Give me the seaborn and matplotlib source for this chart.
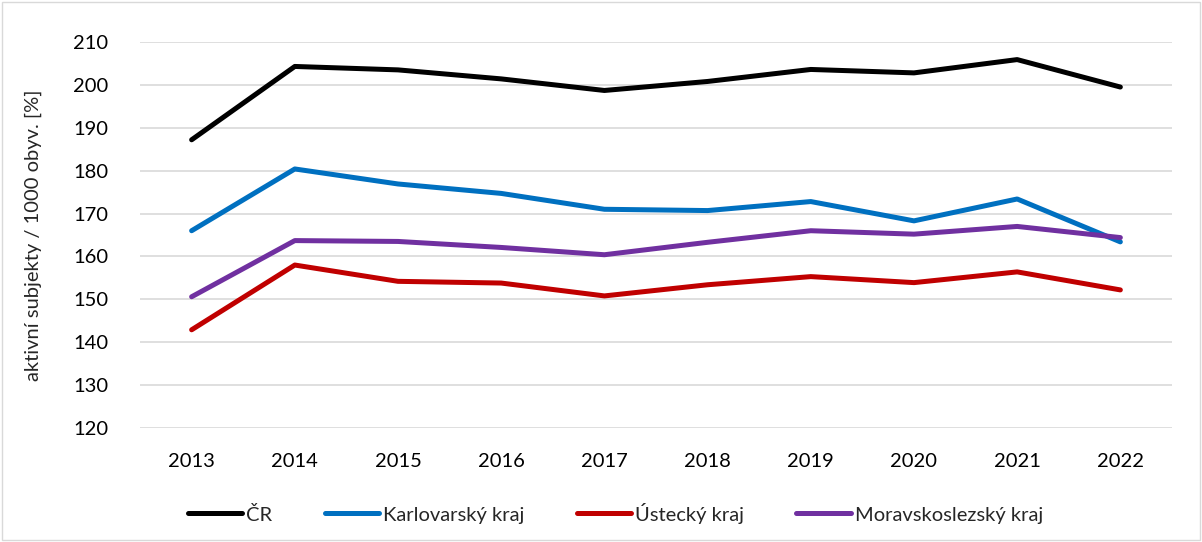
import pandas as pd
import matplotlib.pyplot as plt
import seaborn as sns
from matplotlib.patches import Rectangle

# Data
years = [2013, 2014, 2015, 2016, 2017, 2018, 2019, 2020, 2021, 2022]
cr = [187.2, 204.3, 203.5, 201.4, 198.7, 200.8, 203.6, 202.8, 205.9, 199.5]
karlovarsky = [166.0, 180.4, 176.9, 174.7, 171.0, 170.7, 172.8, 168.3, 173.4, 163.4]
ustecky = [142.9, 158.0, 154.2, 153.8, 150.8, 153.4, 155.3, 153.9, 156.4, 152.2]
moravskoslezsky = [150.6, 163.7, 163.5, 162.1, 160.4, 163.3, 166.0, 165.2, 167.0, 164.4]

series = {
    'ČR': cr,
    'Karlovarský kraj': karlovarsky,
    'Ústecký kraj': ustecky,
    'Moravskoslezský kraj': moravskoslezsky,
}
colors = ['#000000', '#0070C0', '#C00000', '#7030A0']

rows = []
for name, vals in series.items():
    for i, v in enumerate(vals):
        rows.append({'pos': i, 'rok': years[i], 'kraj': name, 'hodnota': v})
df = pd.DataFrame(rows)

sns.set_style('white')
plt.rcParams['font.family'] = ['Lato', 'DejaVu Sans']
fs = 14.5

fig = plt.figure(figsize=(12.02, 5.42), dpi=100)
ax = fig.add_axes([0.1165, 0.2103, 0.8585, 0.7122])

sns.lineplot(data=df, x='pos', y='hodnota', hue='kraj', palette=colors,
             linewidth=3.6, ax=ax, legend=False, solid_capstyle='round')

ax.set_xlim(-0.5, 9.5)
ax.set_ylim(120, 210)
ax.set_yticks(range(120, 211, 10))
ax.set_xticks(range(len(years)))
ax.set_xticklabels([str(y) for y in years])
ax.tick_params(axis='both', length=0, labelsize=fs, colors='#000000')
ax.tick_params(axis='x', pad=18)
ax.tick_params(axis='y', pad=23)
ax.grid(axis='y', color='#D9D9D9', linewidth=1.2)
ax.set_axisbelow(True)
for s in ax.spines.values():
    s.set_visible(False)
ax.set_xlabel('')
ax.set_ylabel('aktivní subjekty / 1000 obyv. [%]', fontsize=fs, labelpad=22)

# legend at the bottom
handles = [plt.Line2D([], [], color=c, linewidth=3.6, solid_capstyle='round') for c in colors]
fig.legend(handles, list(series.keys()), loc='center', ncol=4,
           bbox_to_anchor=(0.512, 0.0535), frameon=False, fontsize=fs,
           handlelength=2.7, handletextpad=0.2, columnspacing=2.6)

# chart border
fig.patches.append(Rectangle((0.002, 0.004), 0.996, 0.993, transform=fig.transFigure,
                             fill=False, edgecolor='#D9D9D9', linewidth=1))

plt.savefig('out.png', dpi=100)
